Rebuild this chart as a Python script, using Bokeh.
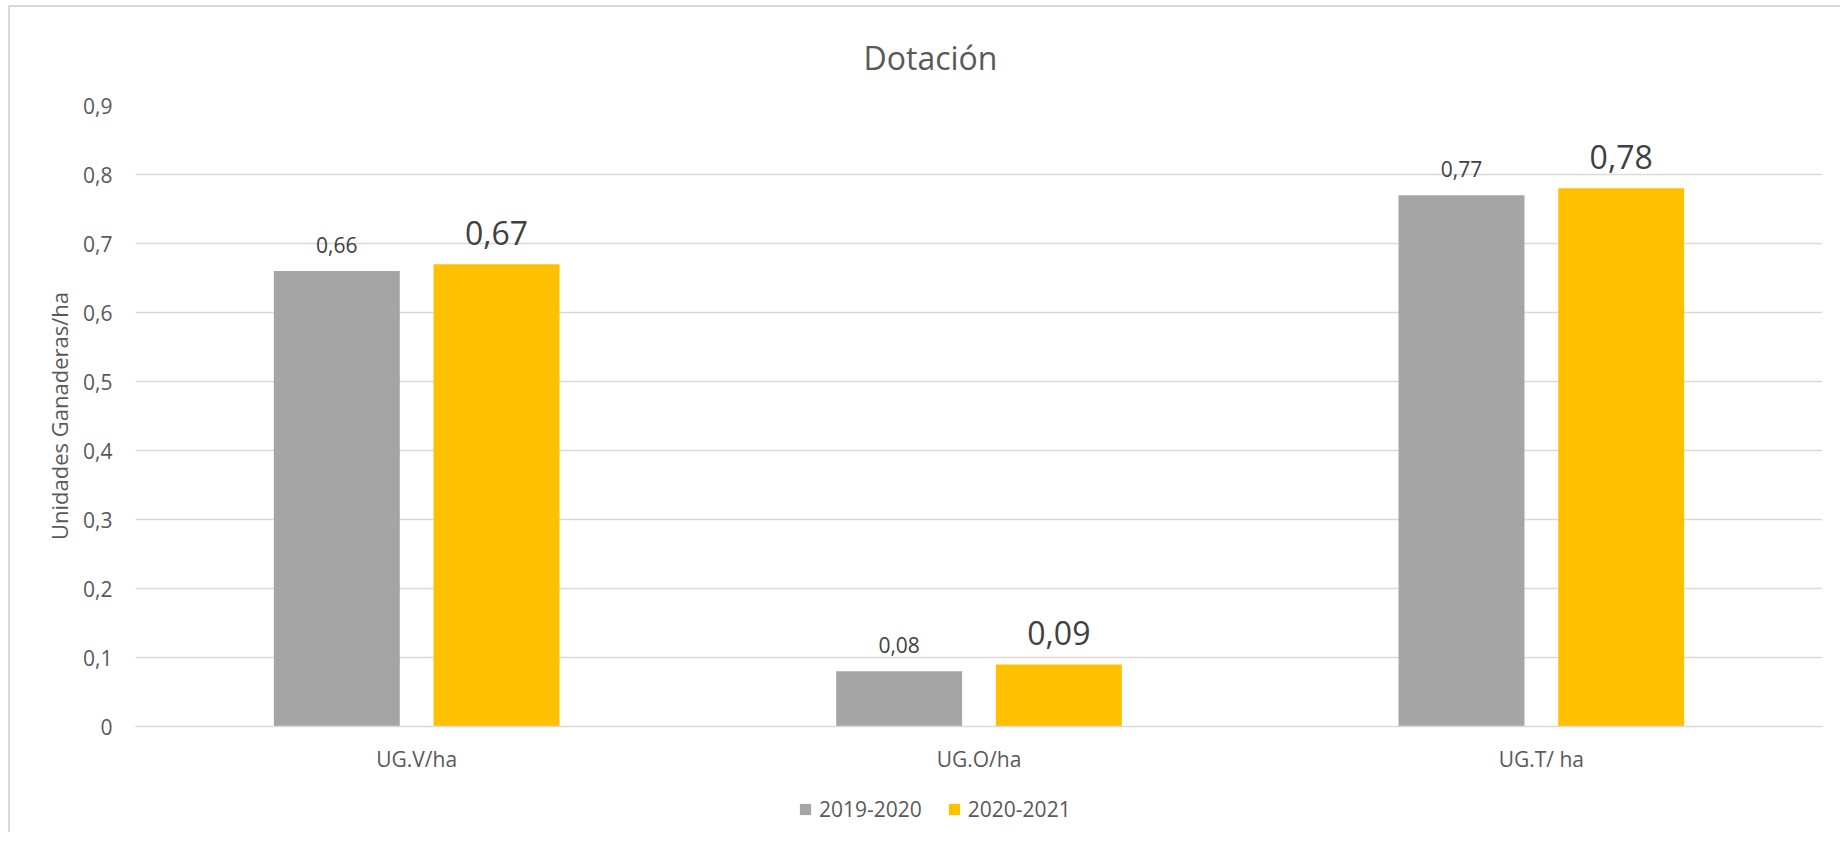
from bokeh.plotting import figure
from bokeh.layouts import column
from bokeh.models import (ColumnDataSource, FactorRange, Range1d, FixedTicker,
                          CustomJSTickFormatter, Legend, LegendItem)
from bokeh.transform import dodge
from bokeh.core.properties import value
from bokeh.embed import file_html
from bokeh.resources import INLINE

# ---- data ----
categories = ["UG.V/ha", "UG.O/ha", "UG.T/ ha"]
series_names = ["2019-2020", "2020-2021"]
values_2019_2020 = [0.66, 0.08, 0.77]
values_2020_2021 = [0.67, 0.09, 0.78]
labels_2019_2020 = ["0,66", "0,08", "0,77"]
labels_2020_2021 = ["0,67", "0,09", "0,78"]
y_ticks = [0, 0.1, 0.2, 0.3, 0.4, 0.5, 0.6, 0.7, 0.8, 0.9]
title_text = "Dotación"
y_label = "Unidades Ganaderas/ha"

FONT = "Open Sans"
GRAY = "#a5a5a5"
GOLD = "#ffc000"
TXT = "#595959"
GRID = "#d9d9d9"

src = ColumnDataSource(dict(cat=categories,
                            v1=values_2019_2020, v2=values_2020_2021,
                            l1=labels_2019_2020, l2=labels_2020_2021))

W_TOTAL = 1830
H_MAIN = 775
H_LEG = 50

p = figure(width=W_TOTAL, height=H_MAIN, x_range=FactorRange(*categories),
           y_range=Range1d(0, 0.9), output_backend="svg", toolbar_location=None,
           min_border_left=125, min_border_right=W_TOTAL - 1812, min_border_top=98,
           min_border_bottom=H_MAIN - 719)
p.outline_line_color = None

p.title.text = title_text
p.title.text_font = FONT
p.title.text_font_size = "32px"
p.title.text_font_style = "normal"
p.title.text_color = TXT
p.title.align = "left"
p.title.offset = 728
p.title.standoff = 53

OFF = 0.142
W = 0.224
p.vbar(x=dodge("cat", -OFF, range=p.x_range), top="v1", width=W, source=src,
       fill_color=GRAY, line_color=None)
p.vbar(x=dodge("cat", OFF, range=p.x_range), top="v2", width=W, source=src,
       fill_color=GOLD, line_color=None)

p.text(x=dodge("cat", -OFF, range=p.x_range), y="v1", text="l1", source=src,
       text_font=value(FONT), text_font_size="21px", text_color="#404040",
       text_align="center", text_baseline="alphabetic", y_offset=-26)
p.text(x=dodge("cat", OFF, range=p.x_range), y="v2", text="l2", source=src,
       text_font=value(FONT), text_font_size="32px", text_color="#404040",
       text_align="center", text_baseline="alphabetic", y_offset=-31)

# axes
p.xgrid.grid_line_color = None
p.ygrid.grid_line_color = GRID
p.ygrid.grid_line_width = 1.5
p.yaxis.ticker = FixedTicker(ticks=y_ticks)
p.yaxis.formatter = CustomJSTickFormatter(
    code="return tick === 0 ? '0' : tick.toFixed(1).replace('.', ',');")
p.yaxis.axis_line_color = None
p.yaxis.major_tick_line_color = None
p.yaxis.minor_tick_line_color = None
p.yaxis.major_tick_in = 0
p.yaxis.major_tick_out = 0
p.yaxis.major_label_standoff = 23
p.yaxis.major_label_text_font = FONT
p.yaxis.major_label_text_font_size = "21px"
p.yaxis.major_label_text_color = TXT
p.yaxis.axis_label = y_label
p.yaxis.axis_label_text_font = FONT
p.yaxis.axis_label_text_font_size = "22px"
p.yaxis.axis_label_text_font_style = "normal"
p.yaxis.axis_label_text_color = TXT
p.yaxis.axis_label_standoff = 6

p.xaxis.axis_line_color = GRID
p.xaxis.axis_line_width = 1.5
p.xaxis.major_tick_line_color = None
p.xaxis.minor_tick_line_color = None
p.xaxis.major_tick_in = 0
p.xaxis.major_tick_out = 0
p.xaxis.major_label_standoff = 18
p.xaxis.major_label_text_font = FONT
p.xaxis.major_label_text_font_size = "21px"
p.xaxis.major_label_text_color = TXT

# legend strip below the chart (its frame is aligned with the chart's frame)
pl = figure(width=W_TOTAL, height=H_LEG, x_range=Range1d(0, 1), y_range=Range1d(0, 1),
            output_backend="svg", toolbar_location=None, min_border=0,
            x_axis_location=None, y_axis_location=None)
pl.outline_line_color = None
pl.grid.grid_line_color = None
# off-screen proxies so the legend can draw its swatches
d1 = pl.vbar(x=[-10], top=[-10], width=0.1, fill_color=GRAY, line_color=None)
d2 = pl.vbar(x=[-10], top=[-10], width=0.1, fill_color=GOLD, line_color=None)
legend = Legend(items=[LegendItem(label=series_names[0], renderers=[d1]),
                       LegendItem(label=series_names[1], renderers=[d2])],
                orientation="horizontal", location=(663, 9),
                glyph_width=14, glyph_height=14, label_height=24,
                label_standoff=7, spacing=25,
                padding=0, margin=0, label_text_font=FONT,
                label_text_font_size="21px", label_text_color=TXT,
                border_line_color=None, background_fill_alpha=0)
pl.add_layout(legend, "center")

layout = column(p, pl, spacing=0)
layout.styles = {"border-top": "2px solid #d9d9d9", "border-left": "2px solid #d9d9d9",
                 "margin-left": "8px", "margin-top": "5px"}

open("out.html", "w").write(file_html(layout, INLINE))
